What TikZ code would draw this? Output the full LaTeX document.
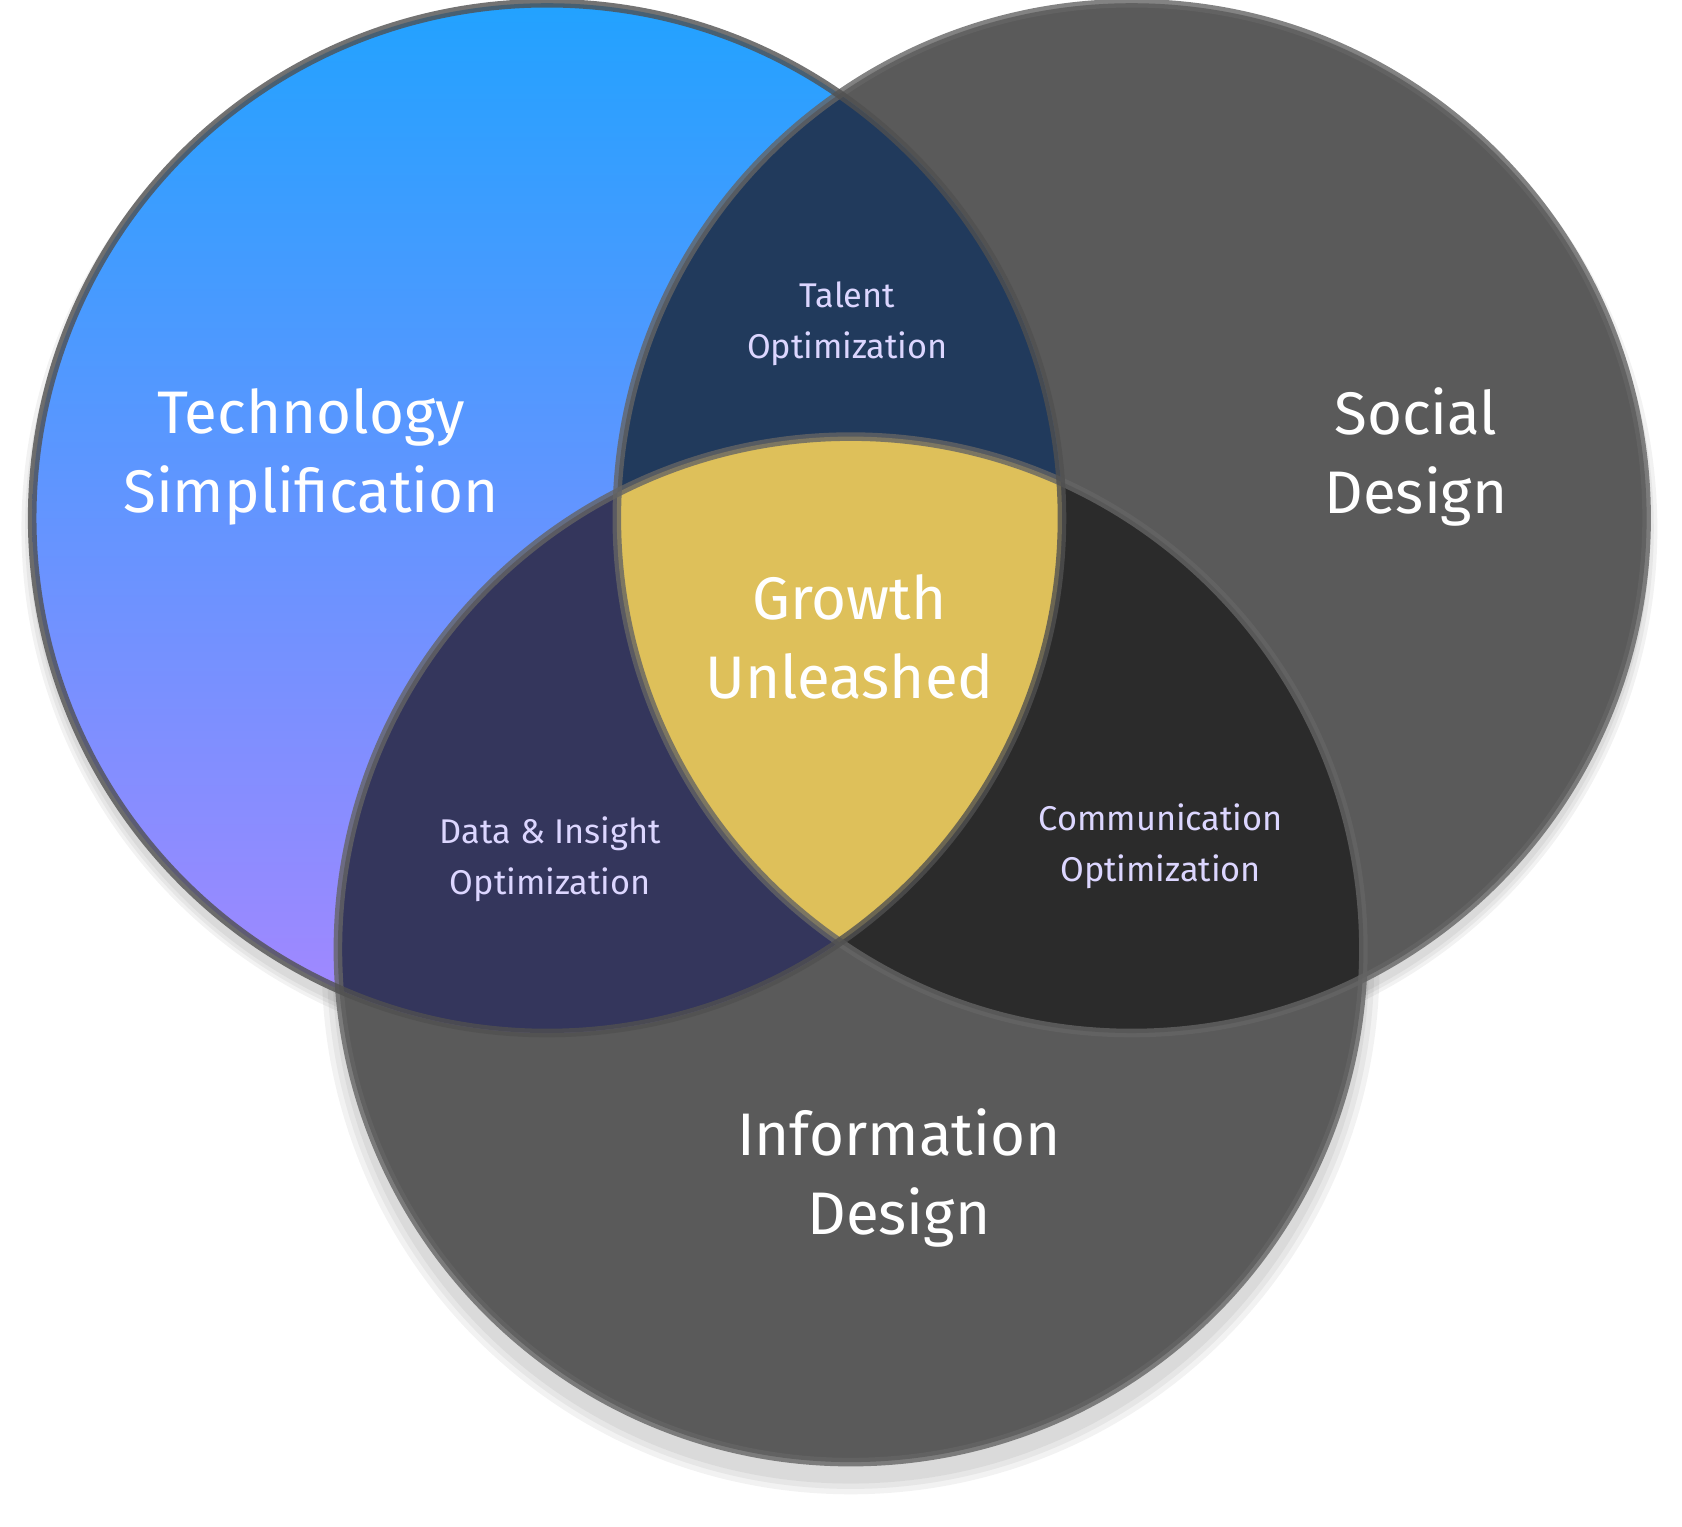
\documentclass[tikz,border=0pt]{standalone}
\usepackage{fontspec}
\setmainfont{Fira Sans}
\begin{document}
\begin{tikzpicture}[x=1pt,y=-1pt,
  big/.style={text=white,font=\fontsize{56}{74}\selectfont,align=center},
  small/.style={text={rgb,255:red,220;green,214;blue,255},font=\fontsize{32}{47}\selectfont,align=center},
  ring/.style={draw={rgb,255:red,100;green,100;blue,100},line width=8pt,draw opacity=0.8}]
\definecolor{cgray}{HTML}{5A5A5A}
\useasboundingbox (0,0) rectangle (1568,1423);
\def\L{(510,483) circle (480)}
\def\R{(1055,483) circle (480)}
\def\B{(793,885) circle (478)}
% soft shadows
\foreach \o/\s in {0.05/30,0.05/20,0.05/10}{
  \fill[black,opacity=\o] (510,493) circle (480+\s/3);
  \fill[black,opacity=\o] (1055,493) circle (480+\s/3);
  \fill[black,opacity=\o] (793,900) circle (478+\s/2);
}
\fill[cgray] \R;
\fill[cgray] \B;
\shade[top color={rgb,255:red,34;green,162;blue,255},bottom color={rgb,255:red,165;green,135;blue,255}] \L;
\begin{scope}\clip \L; \fill[fill={rgb,255:red,33;green,58;blue,92}] \R; \end{scope}
\begin{scope}\clip \L; \fill[fill={rgb,255:red,52;green,54;blue,92}] \B; \end{scope}
\begin{scope}\clip \R; \fill[fill={rgb,255:red,43;green,43;blue,43}] \B; \end{scope}
\begin{scope}\clip \L; \clip \R; \fill[fill={rgb,255:red,222;green,192;blue,90}] \B; \end{scope}
\draw[ring] \R;
\draw[ring] \B;
\draw[ring,draw={rgb,255:red,80;green,80;blue,80}] \L;
\node[big] (tech) at (290,426) {Technology\\Simplification};
\node[big] (soc) at (1320,426) {Social\\Design};
\node[big] (info) at (838,1098) {Information\\Design};
\node[big] (grow) at (792,594) {Growth\\Unleashed};
\node[small] (tal) at (790,302) {Talent\\Optimization};
\node[small] (data) at (513,801) {Data \& Insight\\Optimization};
\node[small] (comm) at (1082,789) {Communication\\Optimization};
\end{tikzpicture}
\end{document}
